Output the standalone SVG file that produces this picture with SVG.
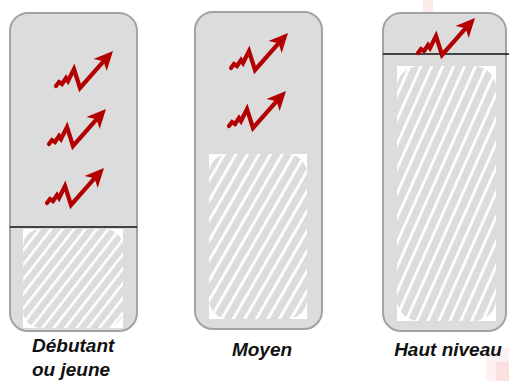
<svg xmlns="http://www.w3.org/2000/svg" xmlns:xlink="http://www.w3.org/1999/xlink" width="509" height="381" viewBox="0 0 509 381">
<style>
.box{fill:#dcdcdc;stroke:#a3a3a3;stroke-width:2}
.div{stroke:#111;stroke-width:1.3}
.lbl{font-family:"Liberation Sans",Arial,sans-serif;font-weight:bold;font-style:italic;font-size:19px;fill:#111}
.hbg{fill:#fff}
</style>
<defs>
<pattern id="h1" width="9" height="9" patternUnits="userSpaceOnUse" patternTransform="rotate(38)">
<rect width="9" height="9" fill="#dcdcdc"/><rect x="0" width="2.6" height="9" fill="#fff"/>
</pattern>
<pattern id="h2" width="10" height="10" patternUnits="userSpaceOnUse" patternTransform="rotate(30)">
<rect width="10" height="10" fill="#dcdcdc"/><rect x="0" width="2.8" height="10" fill="#fff"/>
</pattern>
<pattern id="h3" width="10" height="10" patternUnits="userSpaceOnUse" patternTransform="rotate(24)">
<rect width="10" height="10" fill="#dcdcdc"/><rect x="0" width="2.8" height="10" fill="#fff"/>
</pattern>
<g id="arrow">
<polyline points="0,0 3,-4 6,-2 10,-8 12,-5 18,-17 24,2 47.5,-24.7" fill="none" stroke="#b30000" stroke-width="4.2" stroke-linejoin="miter" stroke-linecap="round"/>
<polygon points="57,-35 50.7,-14.9 47.5,-24.7 37.5,-27.1" fill="#b30000"/>
</g>
</defs>
<rect x="0" y="0" width="509" height="381" fill="#fff"/>
<rect x="423" y="0" width="10" height="12" fill="#fcebeb"/>
<rect x="486" y="348" width="23" height="33" fill="#fef1f1"/>
<rect x="496" y="362" width="13" height="19" fill="#fbe0e0"/>
<g id="node-debutant">
<rect class="box" x="10" y="13" width="127" height="318" rx="18"/>
<rect class="hbg" x="23" y="229" width="100" height="99"/>
<rect x="23" y="229" width="100" height="99" rx="18" fill="url(#h1)"/>
<line class="div" x1="10" y1="227" x2="137" y2="227"/>
<use xlink:href="#arrow" transform="translate(56,86)"/>
<use xlink:href="#arrow" transform="translate(49,144)"/>
<use xlink:href="#arrow" transform="translate(47,203)"/>
<text class="lbl" x="32" y="352">Débutant</text>
<text class="lbl" x="32" y="376">ou jeune</text>
</g>
<g id="node-moyen">
<rect class="box" x="195" y="12" width="127" height="317" rx="18"/>
<rect class="hbg" x="209" y="154" width="98" height="165"/>
<rect x="209" y="154" width="98" height="165" rx="20" fill="url(#h2)"/>
<use xlink:href="#arrow" transform="translate(231,68)"/>
<use xlink:href="#arrow" transform="translate(229,126)"/>
<text class="lbl" x="262" y="356" text-anchor="middle">Moyen</text>
</g>
<g id="node-haut">
<rect class="box" x="383" y="13" width="123" height="318" rx="18"/>
<rect class="hbg" x="397" y="66" width="99" height="255"/>
<rect x="397" y="66" width="99" height="255" rx="22" fill="url(#h3)"/>
<line class="div" x1="383" y1="54" x2="509" y2="54"/>
<use xlink:href="#arrow" transform="translate(418,53)"/>
<text class="lbl" x="448" y="356" text-anchor="middle">Haut niveau</text>
</g>
<g id="connectors"/>
</svg>
